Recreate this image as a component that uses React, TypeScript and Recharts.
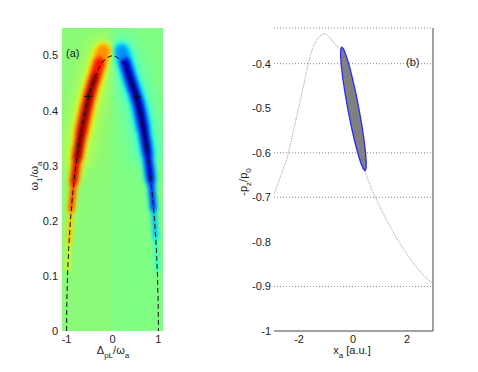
import React from 'react';
import { ComposedChart, Line, Scatter, XAxis, YAxis, ReferenceArea, ReferenceLine } from 'recharts';

// ---- panel (a) ----
const aXTicks = [-1, 0, 1];
const aYTicks = [0, 0.1, 0.2, 0.3, 0.4, 0.5];
const cbTicks = [-0.015, -0.01, -0.005, 0, 0.005, 0.01, 0.015];

// dashed resonance curve
const resonance = [
  { x: -1, y: 0 }, { x: -0.995, y: 0.05 }, { x: -0.98, y: 0.1 }, { x: -0.955, y: 0.15 },
  { x: -0.917, y: 0.2 }, { x: -0.866, y: 0.25 }, { x: -0.8, y: 0.3 }, { x: -0.714, y: 0.35 },
  { x: -0.6, y: 0.4 }, { x: -0.5, y: 0.433 }, { x: -0.4, y: 0.458 }, { x: -0.3, y: 0.477 },
  { x: -0.2, y: 0.49 }, { x: -0.1, y: 0.497 }, { x: 0, y: 0.5 }, { x: 0.1, y: 0.497 },
  { x: 0.2, y: 0.49 }, { x: 0.3, y: 0.477 }, { x: 0.4, y: 0.458 }, { x: 0.5, y: 0.433 },
  { x: 0.6, y: 0.4 }, { x: 0.714, y: 0.35 }, { x: 0.8, y: 0.3 }, { x: 0.866, y: 0.25 },
  { x: 0.917, y: 0.2 }, { x: 0.955, y: 0.15 }, { x: 0.98, y: 0.1 }, { x: 0.995, y: 0.05 },
  { x: 1, y: 0 },
];
const crossMarks = [{ x: -0.53, y: 0.426 }, { x: 0.53, y: 0.426 }];

// ridge of the positive (red) lobe, bottom to top
const redRidge = [
  { x: -0.978, y: 0.11 }, { x: -0.945, y: 0.16 }, { x: -0.9, y: 0.22 }, { x: -0.84, y: 0.27 },
  { x: -0.765, y: 0.315 }, { x: -0.675, y: 0.36 }, { x: -0.575, y: 0.4 }, { x: -0.475, y: 0.435 },
  { x: -0.375, y: 0.462 }, { x: -0.285, y: 0.487 }, { x: -0.2, y: 0.508 },
];
// ridge of the negative (blue) lobe, top to bottom
const blueRidge = [
  { x: 0.2, y: 0.508 }, { x: 0.28, y: 0.487 }, { x: 0.37, y: 0.462 }, { x: 0.47, y: 0.437 },
  { x: 0.57, y: 0.41 }, { x: 0.67, y: 0.37 }, { x: 0.76, y: 0.324 }, { x: 0.835, y: 0.274 },
  { x: 0.895, y: 0.222 }, { x: 0.94, y: 0.17 }, { x: 0.972, y: 0.11 },
];

const redLayers = [
  { from: 0, to: 10, color: '#ffff00', width: 3 },
  { from: 1, to: 10, color: '#ffff00', width: 6 },
  { from: 2, to: 10, color: '#ffff00', width: 9 },
  { from: 3, to: 10, color: '#ffff00', width: 13 },
  { from: 4, to: 10, color: '#ffff00', width: 16 },
  { from: 5, to: 10, color: '#ffff00', width: 19 },
  { from: 1, to: 9, color: '#ffa000', width: 3 },
  { from: 2, to: 10, color: '#ffa000', width: 6 },
  { from: 3, to: 10, color: '#ff9800', width: 10 },
  { from: 5, to: 10, color: '#ff9000', width: 14 },
  { from: 2, to: 9, color: '#ff2000', width: 4 },
  { from: 3, to: 9, color: '#ff1a00', width: 7 },
  { from: 4, to: 9, color: '#ff1000', width: 11 },
  { from: 3, to: 8, color: '#c00000', width: 4 },
  { from: 4, to: 8, color: '#b00000', width: 7 },
  { from: 4, to: 8, color: '#800000', width: 4 },
];
const blueLayers = [
  { from: 0, to: 10, color: '#00ffff', width: 3 },
  { from: 0, to: 9, color: '#00ffff', width: 6 },
  { from: 0, to: 8, color: '#00ffff', width: 9 },
  { from: 0, to: 7, color: '#00ffff', width: 13 },
  { from: 0, to: 6, color: '#00ffff', width: 16 },
  { from: 0, to: 5, color: '#00ffff', width: 18 },
  { from: 1, to: 9, color: '#0096ff', width: 3 },
  { from: 0, to: 8, color: '#0096ff', width: 6 },
  { from: 0, to: 7, color: '#0090ff', width: 10 },
  { from: 0, to: 5, color: '#0090ff', width: 13 },
  { from: 1, to: 8, color: '#0000ff', width: 4 },
  { from: 1, to: 7, color: '#0000ff', width: 7 },
  { from: 1, to: 6, color: '#0000ff', width: 10 },
  { from: 1, to: 7, color: '#0000b4', width: 4 },
  { from: 1, to: 6, color: '#0000b4', width: 7 },
  { from: 2, to: 6, color: '#000080', width: 3.5 },
];
const haloLayers = [
  { ridge: redRidge, from: 4, to: 10, color: '#d8ff30', width: 32 },
  { ridge: blueRidge, from: 0, to: 6, color: '#40ffe8', width: 32 },
];

// ---- panel (b) ----
const bXTicks = [-2, 0, 2];
const bYTicks = [-1, -0.9, -0.8, -0.7, -0.6, -0.5, -0.4];
const bGridLevels = [-0.32, -0.4, -0.6, -0.7, -0.9];

const curveB = [
  { x: -2.93, y: -0.693 }, { x: -2.7, y: -0.655 }, { x: -2.4, y: -0.602 }, { x: -2.2, y: -0.548 },
  { x: -2.0, y: -0.494 }, { x: -1.8, y: -0.44 }, { x: -1.66, y: -0.4 }, { x: -1.5, y: -0.366 },
  { x: -1.3, y: -0.343 }, { x: -1.05, y: -0.333 }, { x: -0.85, y: -0.342 }, { x: -0.7, y: -0.354 },
  { x: -0.5, y: -0.365 }, { x: -0.42, y: -0.37 }, { x: -0.2, y: -0.43 }, { x: 0, y: -0.5 },
  { x: 0.2, y: -0.568 }, { x: 0.44, y: -0.64 }, { x: 0.6, y: -0.668 }, { x: 0.8, y: -0.697 },
  { x: 1.0, y: -0.722 }, { x: 1.25, y: -0.752 }, { x: 1.6, y: -0.79 }, { x: 2.0, y: -0.828 },
  { x: 2.5, y: -0.868 }, { x: 2.96, y: -0.893 },
];
const ellipseEdge = [
  { x: 0.444, y: -0.64 }, { x: 0.481, y: -0.635 }, { x: 0.486, y: -0.621 }, { x: 0.459, y: -0.598 },
  { x: 0.401, y: -0.569 }, { x: 0.316, y: -0.535 }, { x: 0.211, y: -0.5 }, { x: 0.093, y: -0.464 },
  { x: -0.032, y: -0.431 }, { x: -0.153, y: -0.402 }, { x: -0.263, y: -0.381 }, { x: -0.355, y: -0.367 },
  { x: -0.421, y: -0.363 }, { x: -0.459, y: -0.369 }, { x: -0.463, y: -0.383 }, { x: -0.436, y: -0.405 },
  { x: -0.379, y: -0.434 }, { x: -0.294, y: -0.468 }, { x: -0.189, y: -0.504 }, { x: -0.07, y: -0.54 },
  { x: 0.054, y: -0.573 }, { x: 0.176, y: -0.601 }, { x: 0.286, y: -0.623 }, { x: 0.377, y: -0.636 },
];
const ellipseAxis = [
  { x: -0.42, y: -0.363 }, { x: -0.2, y: -0.428 }, { x: 0, y: -0.5 }, { x: 0.2, y: -0.572 }, { x: 0.44, y: -0.64 },
];

const font = "'Liberation Sans', Arial, Helvetica, sans-serif";
const tickStyle = { fontSize: 11, fill: '#222' };
const marginA = { top: 28, right: 7, bottom: 11, left: 22 };

function layerA(children: React.ReactNode, show = false) {
  return (
    <ComposedChart width={170} height={372} margin={marginA}>
      <XAxis type="number" dataKey="x" domain={[-1.1, 1.1]} ticks={aXTicks} interval={0} height={30}
        tickSize={0} tickMargin={4} axisLine={false} tickLine={false} tick={show ? tickStyle : false} allowDataOverflow />
      <YAxis type="number" dataKey="y" domain={[0, 0.55]} ticks={aYTicks} interval={0} width={40}
        tickSize={0} tickMargin={4} axisLine={false} tickLine={false} tick={show ? tickStyle : false} allowDataOverflow />
      {children}
    </ComposedChart>
  );
}

const lobeLine = (key: string, data: { x: number; y: number }[], color: string, width: number, opacity = 1) => (
  <Line key={key} data={data} dataKey="y" type="monotone" stroke={color} strokeWidth={width} strokeOpacity={opacity}
    strokeLinecap="round" strokeLinejoin="round" dot={false} activeDot={false} isAnimationActive={false} />
);

const CrossMark = (props: any) => {
  const { cx, cy } = props;
  return (
    <g stroke="#111" strokeWidth={1}>
      <line x1={cx - 4} y1={cy} x2={cx + 4} y2={cy} />
      <line x1={cx} y1={cy - 4} x2={cx} y2={cy + 4} />
    </g>
  );
};

const abs = (l: number, t: number, extra: React.CSSProperties = {}): React.CSSProperties => ({ position: 'absolute', left: l, top: t, ...extra });
const clipA = 'inset(28px 7px 41px 62px)';

export default function App() {
  return (
    <div style={{ position: 'absolute', left: 0, top: 0, width: 478, height: 372, background: '#fff', fontFamily: font, color: '#222', overflow: 'hidden' }}>
      {/* panel (a) background + axes */}
      <div style={abs(0, 0)}>
        {layerA([
          <ReferenceArea key="br" x1={-1.1} x2={1.1} y1={0} y2={0.55} fill="#80ff84" fillOpacity={1} stroke="none" />,
          <ReferenceArea key="bl" x1={-1.1} x2={0} y1={0} y2={0.55} fill="#8afa78" fillOpacity={1} stroke="none" />,
        ], true)}
      </div>
      {/* soft halo */}
      <div style={abs(0, 0, { filter: 'blur(7px)', clipPath: clipA })}>
        {layerA(haloLayers.map((l, i) => lobeLine('h' + i, l.ridge.slice(l.from, l.to + 1), l.color, l.width, 0.55)))}
      </div>
      {/* lobes */}
      <div style={abs(0, 0, { filter: 'blur(2.2px)', clipPath: clipA })}>
        {layerA([
          ...redLayers.map((l, i) => lobeLine('r' + i, redRidge.slice(l.from, l.to + 1), l.color, l.width)),
          ...blueLayers.map((l, i) => lobeLine('b' + i, blueRidge.slice(l.from, l.to + 1), l.color, l.width)),
        ])}
      </div>
      {/* dashed curve + markers */}
      <div style={abs(0, 0)}>
        {layerA([
          <Line key="res" data={resonance} dataKey="y" type="linear" stroke="#111" strokeWidth={1} strokeDasharray="5 3"
            dot={false} activeDot={false} isAnimationActive={false} />,
          <Scatter key="cross" data={crossMarks} dataKey="y" shape={CrossMark} isAnimationActive={false} />,
        ])}
      </div>

      {/* colour bar */}
      <div style={abs(160, 0)}>
        <ComposedChart width={60} height={372} margin={{ top: 28, right: 0, bottom: 11, left: 12 }}>
          <defs>
            <linearGradient id="jet" x1="0" y1="0" x2="0" y2="1">
              <stop offset="0" stopColor="#800000" />
              <stop offset="0.125" stopColor="#ff0000" />
              <stop offset="0.375" stopColor="#ffff00" />
              <stop offset="0.5" stopColor="#80ff80" />
              <stop offset="0.625" stopColor="#00ffff" />
              <stop offset="0.875" stopColor="#0000ff" />
              <stop offset="1" stopColor="#000080" />
            </linearGradient>
          </defs>
          <XAxis type="number" domain={[0, 1]} height={30} tick={false} axisLine={false} tickLine={false} />
          <YAxis orientation="right" type="number" domain={[-0.0175, 0.0175]} ticks={cbTicks} interval={0} width={36}
            tickSize={0} tickMargin={2} axisLine={false} tickLine={false} tick={tickStyle} />
          <ReferenceArea x1={0} x2={1} y1={-0.0175} y2={0.0175} fill="url(#jet)" fillOpacity={1} stroke="none" />
          <ReferenceLine x={1} stroke="#777" />
          {cbTicks.map(v => (
            <ReferenceLine key={'l' + v} segment={[{ x: 0, y: v }, { x: 0.25, y: v }]} stroke="#333" />
          ))}
          {cbTicks.map(v => (
            <ReferenceLine key={'r' + v} segment={[{ x: 0.75, y: v }, { x: 1, y: v }]} stroke="#333" />
          ))}
        </ComposedChart>
      </div>

      {/* panel (b) */}
      <div style={abs(220, 0)}>
        <ComposedChart width={258} height={372} margin={{ top: 28, right: 45, bottom: 11, left: 14 }}>
          <XAxis type="number" dataKey="x" domain={[-2.93, 2.96]} ticks={bXTicks} interval={0} height={30}
            tickSize={0} tickMargin={4} axisLine={{ stroke: '#444' }} tickLine={false} tick={tickStyle} allowDataOverflow />
          <YAxis type="number" dataKey="y" domain={[-1, -0.32]} ticks={bYTicks} interval={0} width={40}
            tickSize={0} tickMargin={3} axisLine={false} tickLine={false} tick={tickStyle} allowDataOverflow />
          {bGridLevels.map(v => (
            <ReferenceLine key={v} y={v} stroke="#888" strokeDasharray="1 2" />
          ))}
          <ReferenceLine x={2.96} stroke="#444" />
          <Line data={curveB} dataKey="y" type="monotone" stroke="#999" strokeWidth={0.8} strokeDasharray="1.5 1"
            dot={false} activeDot={false} isAnimationActive={false} />
          <Scatter data={ellipseEdge} dataKey="y" line={{ stroke: '#2a2aff', strokeWidth: 1.3, fill: '#808080' }}
            lineJointType="linearClosed" shape={() => <g />} isAnimationActive={false} />
          <Line data={ellipseAxis} dataKey="y" type="monotone" stroke="#222" strokeWidth={0.8} strokeDasharray="3 2"
            dot={false} activeDot={false} isAnimationActive={false} />
        </ComposedChart>
      </div>

      {/* labels */}
      <div style={abs(66, 47, { fontSize: 11 })}>(a)</div>
      <div style={abs(406, 56, { fontSize: 11 })}>(b)</div>
      <div style={abs(36, 176, { fontSize: 11, transform: 'translate(-50%,-50%) rotate(-90deg)', whiteSpace: 'nowrap' })}>
        ω<sub style={{ fontSize: 8 }}>1</sub>/ω<sub style={{ fontSize: 8 }}>a</sub>
      </div>
      <div style={abs(245, 182, { fontSize: 11, transform: 'translate(-50%,-50%) rotate(-90deg)', whiteSpace: 'nowrap' })}>
        -p<sub style={{ fontSize: 8 }}>z</sub>/p<sub style={{ fontSize: 8 }}>0</sub>
      </div>
      <div style={abs(113, 352, { fontSize: 11, transform: 'translate(-50%,-50%)', whiteSpace: 'nowrap' })}>
        Δ<sub style={{ fontSize: 8 }}>pL</sub>/ω<sub style={{ fontSize: 8 }}>a</sub>
      </div>
      <div style={abs(352, 352, { fontSize: 11, transform: 'translate(-50%,-50%)', whiteSpace: 'nowrap' })}>
        x<sub style={{ fontSize: 8 }}>a</sub> [a.u.]
      </div>
    </div>
  );
}
